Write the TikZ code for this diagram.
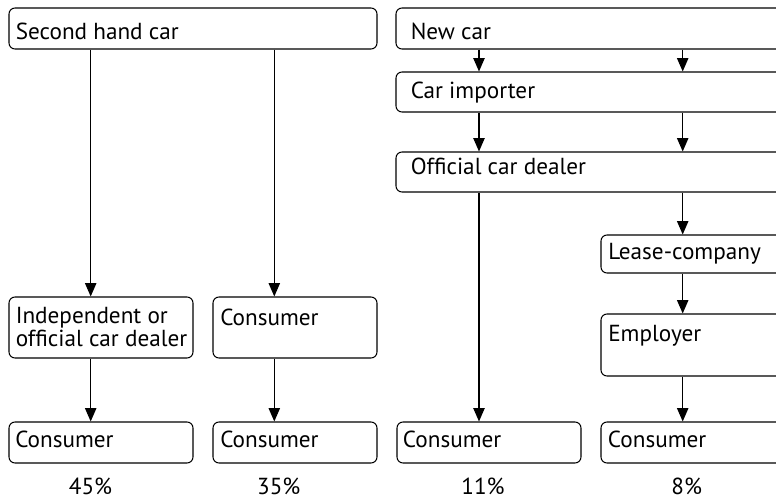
\documentclass[tikz,border=0pt]{standalone}
\usepackage{fontspec}
\setmainfont{PT Sans}
\usepackage{tikz}
\usetikzlibrary{arrows.meta,fit}

\tikzset{
  box/.style={draw, rounded corners=4.5pt, line width=0.8pt, inner sep=0pt},
  lbl/.style={anchor=base west, inner sep=0pt, align=left, font=\fontsize{17.4pt}{17.6pt}\selectfont},
  pct/.style={anchor=base, inner sep=0pt, font=\fontsize{17.4pt}{17.6pt}\selectfont},
  arr/.style={-{Triangle[width=8.5pt,length=10pt]}, line width=0.8pt}
}

\begin{document}
\begin{tikzpicture}[x=0.75pt,y=-0.75pt]
    \useasboundingbox (0,0) rectangle (776,499);
    \clip (0,0) rectangle (776,499);

    \node[box, fit={(9,8) (377,49)}] (secondhand) {};
    \node[box, fit={(9,297) (193,358)}] (indep) {};
    \node[box, fit={(213,297) (377,358)}] (consmid) {};
    \node[box, fit={(396,8) (795,49)}] (newcar) {};
    \node[box, fit={(396,72) (795,112)}] (importer) {};
    \node[box, fit={(396,152) (795,192)}] (official) {};
    \node[box, fit={(601,235) (795,273)}] (lease) {};
    \node[box, fit={(601,314) (795,376)}] (employer) {};
    \node[box, fit={(9,422) (193,463)}] (consA) {};
    \node[box, fit={(213,422) (377,463)}] (consB) {};
    \node[box, fit={(397,422) (581,463)}] (consC) {};
    \node[box, fit={(601,422) (795,463)}] (consD) {};

    \node[lbl] (secondhand-txt) at (15.5,39.5) {Second hand car};
    \node[lbl] (indep-txt) at (15.5,346.7) {Independent or\\official car dealer};
    \node[lbl] (consmid-txt) at (220,326) {Consumer};
    \node[lbl] (newcar-txt) at (410.5,40) {New car};
    \node[lbl] (importer-txt) at (410.5,98.3) {Car importer};
    \node[lbl] (official-txt) at (410.5,175) {Official car dealer};
    \node[lbl] (lease-txt) at (608,259.3) {Lease-company};
    \node[lbl] (employer-txt) at (608,341.7) {Employer};
    \node[lbl] (consA-txt) at (15,447.3) {Consumer};
    \node[lbl] (consB-txt) at (220,447.3) {Consumer};
    \node[lbl] (consC-txt) at (402.7,447.3) {Consumer};
    \node[lbl] (consD-txt) at (607.7,447.3) {Consumer};

    \node[pct] (pctA) at (90.5,494.3) {45\%};
    \node[pct] (pctB) at (278.8,494.3) {35\%};
    \node[pct] (pctC) at (483,494.3) {11\%};
    \node[pct] (pctD) at (686.7,494.3) {8\%};

    \coordinate (colA) at (90.7,0);
    \coordinate (colB) at (274.3,0);
    \coordinate (colC) at (479,0);
    \coordinate (colD) at (682.7,0);

    \draw[arr] (secondhand.south -| colA) -- (indep.north -| colA);
    \draw[arr] (indep.south -| colA) -- (consA.north -| colA);
    \draw[arr] (secondhand.south -| colB) -- (consmid.north -| colB);
    \draw[arr] (consmid.south -| colB) -- (consB.north -| colB);

    \draw[arr] (newcar.south -| colC) -- (importer.north -| colC);
    \draw[arr] (newcar.south -| colD) -- (importer.north -| colD);
    \draw[arr] (importer.south -| colC) -- (official.north -| colC);
    \draw[arr] (importer.south -| colD) -- (official.north -| colD);
    \draw[arr] (official.south -| colC) -- (consC.north -| colC);
    \draw[arr] (official.south -| colD) -- (lease.north -| colD);
    \draw[arr] (lease.south -| colD) -- (employer.north -| colD);
    \draw[arr] (employer.south -| colD) -- (consD.north -| colD);
\end{tikzpicture}
\end{document}
